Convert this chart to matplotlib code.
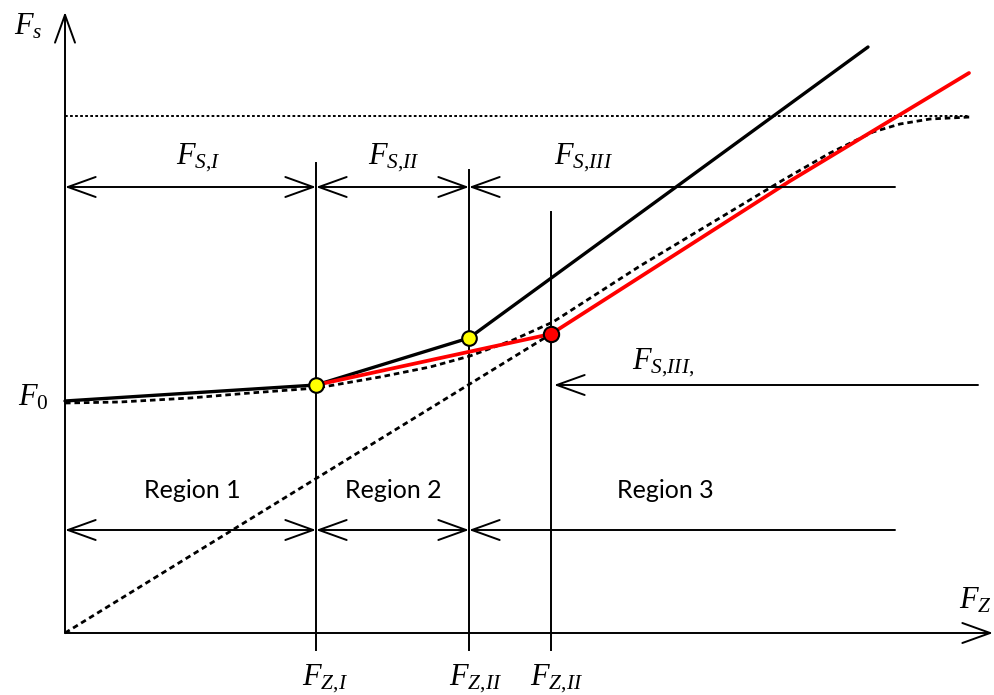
import matplotlib
matplotlib.use("Agg")
import matplotlib.pyplot as plt

plt.rcParams.update({
    "mathtext.fontset": "custom",
    "mathtext.rm": "Liberation Serif",
    "mathtext.it": "Liberation Serif:italic",
    "mathtext.bf": "Liberation Serif:bold",
})

# characteristic: piecewise ideal (black), measured (red), smooth model (dashed)
F0 = 232
FZ_I, FZ_II, FZ_III = 251, 404, 486
F_SAT = 517

black_x = [0, 251, 404, 803]
black_y = [232, 248, 295, 586]

red_x = [251, 486, 725, 904]
red_y = [248, 299, 452, 560]

curve_x = [0, 55, 125, 185, 252, 315, 365, 405, 448, 488, 575, 718, 765,
           808, 835, 865, 905]
curve_y = [230, 231, 235, 240, 245, 256, 266, 277, 293, 311, 367, 453, 480,
           501, 509, 514, 516]

yellow_x = [251, 404]
yellow_y = [248, 295]
red_pt = (486, 299)

LW = 1.4
HEAD = "head_length=2.0,head_width=0.72"
DASH = (0, (2.0, 1.4))

fig = plt.figure(figsize=(9.94, 6.95), dpi=100)
ax = fig.add_axes([0, 0, 1, 1])
ax.set_xlim(-65, 929)
ax.set_ylim(-62, 633)
ax.axis("off")


def arrow(x0, y0, x1, y1, style):
    ax.annotate("", xy=(x1, y1), xytext=(x0, y0),
                arrowprops=dict(arrowstyle=f"{style},{HEAD}", lw=LW,
                                color="black", shrinkA=0, shrinkB=0))


# axes with arrow tips
arrow(0, 0, 0, 621, "->")
arrow(0, 0, 928, 0, "->")

# saturation level and asymptote
ax.plot([0, 905], [F_SAT, F_SAT], color="black", lw=1.4, ls=(0, (1.4, 1.2)))
ax.plot([0, red_pt[0]], [0, red_pt[1]], color="black", lw=2.0, ls=DASH)
ax.plot(curve_x, curve_y, color="black", lw=2.0, ls=DASH)

# verticals at the transition forces
for xv, top in [(FZ_I, 470), (FZ_II, 463), (FZ_III, 421)]:
    ax.plot([xv, xv], [-17, top], color="black", lw=LW)

ax.plot(black_x, black_y, color="black", lw=2.4, solid_capstyle="round")
ax.plot(red_x, red_y, color="#ff0000", lw=2.7, solid_capstyle="round")
ax.plot(yellow_x, yellow_y, "o", ms=10.5, mfc="#ffff00", mec="black", mew=1.5)
ax.plot(*red_pt, "o", ms=11, mfc="#ff0000", mec="black", mew=1.5)

# dimension arrows for force ranges and regions
for yr in (446, 103):
    arrow(0, yr, FZ_I, yr, "<->")
    arrow(FZ_I, yr, FZ_II, yr, "<->")
    arrow(830, yr, FZ_II, yr, "->")
arrow(913, 248, FZ_III + 3, 248, "->")

serif = dict(fontsize=22, ha="center", va="center")
ax.text(-37, 607, r"$F_s$", **serif)
ax.text(-32, 236, r"$F_0$", **serif)
ax.text(910, 33, r"$F_Z$", **serif)
ax.text(133, 475, r"$F_{S{,}I}$", **serif)
ax.text(329, 475, r"$F_{S{,}II}$", **serif)
ax.text(518, 475, r"$F_{S{,}III}$", **serif)
ax.text(598, 270, r"$F_{S{,}III{,}}$", **serif)
ax.text(260, -46, r"$F_{Z{,}I}$", **serif)
ax.text(411, -46, r"$F_{Z{,}II}$", **serif)
ax.text(492, -46, r"$F_{Z{,}II}$", **serif)

sans = dict(fontsize=18, ha="center", va="center", family="Lato")
ax.text(127, 142, "Region 1", **sans)
ax.text(328, 142, "Region 2", **sans)
ax.text(600, 142, "Region 3", **sans)

fig.savefig("out.png", dpi=100, facecolor="white")
